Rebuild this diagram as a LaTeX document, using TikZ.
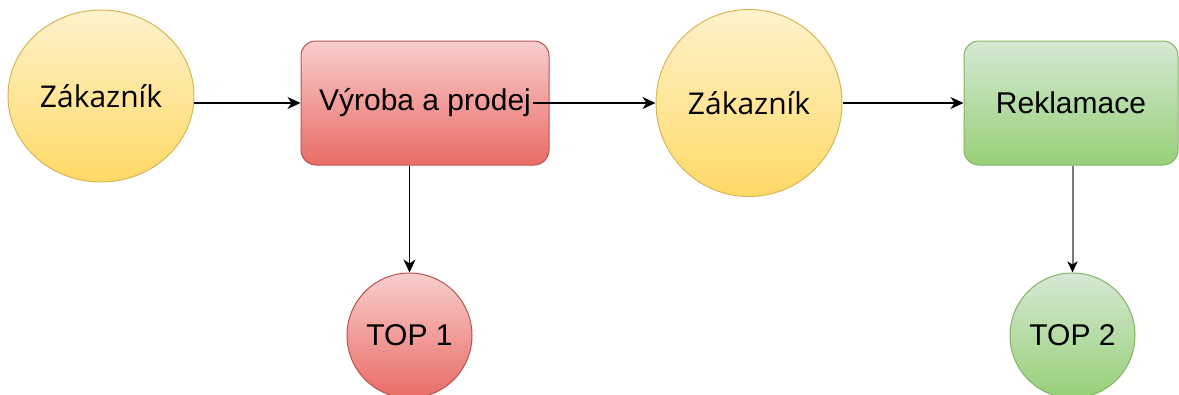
\documentclass[tikz,border=0pt]{standalone}
\usepackage{fontspec}
\setmainfont{Liberation Sans}
\newfontfamily\zfont{Open Sans}
\usetikzlibrary{arrows.meta,shapes.geometric}
\definecolor{ytop}{HTML}{FFF2CC}\definecolor{ybot}{HTML}{FFD966}\definecolor{ystroke}{HTML}{D6B656}
\definecolor{rtop}{HTML}{F8CECC}\definecolor{rbot}{HTML}{EA6B66}\definecolor{rstroke}{HTML}{B85450}
\definecolor{gtop}{HTML}{D5E8D4}\definecolor{gbot}{HTML}{97D077}\definecolor{gstroke}{HTML}{82B366}
\definecolor{lgray}{HTML}{7A7A7A}
\tikzset{
  yel/.style={ellipse, draw=ystroke, line width=1pt, top color=ytop, bottom color=ybot, inner sep=0pt, font=\zfont\fontsize{30}{34}\selectfont},
  redbox/.style={rectangle, rounded corners=15pt, draw=rstroke, line width=1pt, top color=rtop, bottom color=rbot, inner sep=0pt, font=\fontsize{30}{34}\selectfont},
  greenbox/.style={rectangle, rounded corners=15pt, draw=gstroke, line width=1pt, top color=gtop, bottom color=gbot, inner sep=0pt, font=\fontsize{30}{34}\selectfont},
  redc/.style={circle, draw=rstroke, line width=1pt, top color=rtop, bottom color=rbot, inner sep=0pt, minimum size=125pt, font=\fontsize{30}{34}\selectfont},
  greenc/.style={circle, draw=gstroke, line width=1pt, top color=gtop, bottom color=gbot, inner sep=0pt, minimum size=125pt, font=\fontsize{30}{34}\selectfont},
  conn/.style={line width=1.4pt, -{Stealth[length=13pt, width=12pt, inset=4pt]}},
}
\begin{document}
\begin{tikzpicture}[x=1pt, y=-1pt]
\useasboundingbox (0,0) rectangle (1179,394);
\node[yel, minimum width=186pt, minimum height=172pt] (c1) at (101,96) {Zákazník};
\node[redbox, minimum width=248pt, minimum height=124pt] (r1) at (425,103) {Výroba a prodej};
\node[yel, minimum width=186pt, minimum height=187pt] (c2) at (749,103) {Zákazník};
\node[greenbox, minimum width=214pt, minimum height=124pt] (r2) at (1071,103) {Reklamace};
\node[redc] (t1) at (409.5,335.5) {TOP 1};
\node[greenc] (t2) at (1072.5,335.5) {TOP 2};
\coordinate (c1out) at (194,103);
\coordinate (r1out) at (533,103);
\draw[conn] (c1out) -- (r1.west);
\draw[conn] (r1out) -- (c2.west);
\draw[conn] (c2.east) -- (r2.west);
\draw[conn] (r1.south -| t1.north) -- (t1.north);
\draw[line width=2pt, draw=lgray, -{Stealth[length=11pt, width=10pt, inset=3pt, color=black]}] (r2.south -| t2.north) -- (t2.north);
\end{tikzpicture}
\end{document}
